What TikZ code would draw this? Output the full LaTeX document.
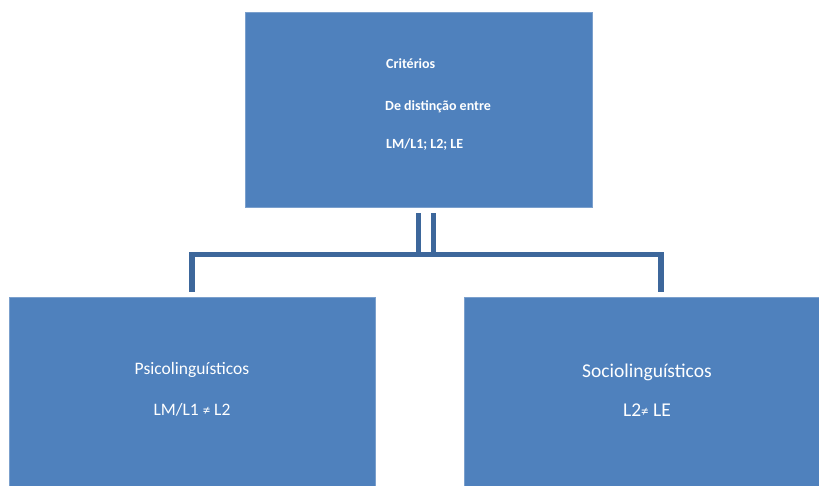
\documentclass[tikz,border=0pt]{standalone}
\usepackage{fontspec}
\setmainfont{Carlito}
\usetikzlibrary{calc}
\definecolor{boxblue}{RGB}{79,129,189}
\definecolor{linkblue}{RGB}{61,103,155}
\newcommand{\smallneq}{{\fontsize{15}{15}\selectfont ≠}}

\begin{document}
\begin{tikzpicture}[x=1pt,y=-1pt,
    box/.style={rectangle,fill=boxblue,draw=boxblue!75!white,line width=0.8pt,inner sep=0pt},
    toptext/.style={anchor=base west,inner sep=0pt,text=white,font=\fontsize{14}{16}\selectfont\bfseries},
    lowtext/.style={anchor=base,inner sep=0pt,text=white,font=\fontsize{17.5}{20}\selectfont},
    link/.style={draw=linkblue,line width=5.5pt}]
  \useasboundingbox (0,0) rectangle (819,486);
  \node[box,minimum width=347pt,minimum height=195pt] (crit) at (418.5,109.5) {};
  \node[box,minimum width=366pt,minimum height=189pt] (psico) at (192,391.5) {};
  \node[box,minimum width=355pt,minimum height=189pt] (socio) at (641.5,391.5) {};

  \node[toptext] (crit1) at (386,69) {Critérios};
  \node[toptext] (crit2) at (385,110.5) {De distinção entre};
  \node[toptext] (crit3) at (386,149) {LM/L1; L2; LE};
  \node[lowtext] (psico1) at (192,374) {Psicolinguísticos};
  \node[lowtext] (psico2) at (192,415) {LM/L1 \smallneq{} L2};
  \node[lowtext,font=\fontsize{19.5}{22}\selectfont] (socio1) at (647,377) {Sociolinguísticos};
  \node[lowtext,font=\fontsize{19.5}{22}\selectfont] (socio2) at (647,416) {L2\smallneq{} LE};

  \coordinate (jl) at ($(psico.north)+(0,-42)$);
  \coordinate (jr) at ($(socio.north)+(19.5,-42)$);
  \coordinate (pl) at ($(psico.north)+(0,-5)$);
  \coordinate (pr) at ($(socio.north)+(19.5,-5)$);
  \draw[link] ($(crit.south)+(0,6)$) -- (crit.south |- jl);
  \draw[link] ($(crit.south)+(15,6)$) -- ($(crit.south |- jl)+(15,0)$);
  \draw[link] (pl) -- (jl) -- (jr) -- (pr);
\end{tikzpicture}
\end{document}
